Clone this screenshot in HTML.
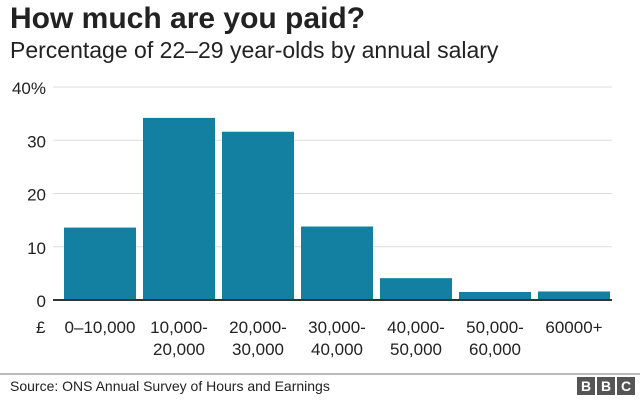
<!DOCTYPE html>
<html><head><meta charset="utf-8"><style>
body{margin:0;width:640px;height:400px;background:#fff;font-family:"Liberation Sans",Arial,sans-serif;overflow:hidden;position:relative}
</style></head><body>
<div style="position:absolute;left:10px;top:2px;font-size:30px;font-weight:bold;color:#222">How much are you paid?</div>
<div style="position:absolute;left:10px;top:37px;font-size:23px;color:#222">Percentage of 22–29 year-olds by annual salary</div>
<svg id="c" width="640" height="400" style="position:absolute;left:0;top:0"></svg>
<div style="position:absolute;left:0;top:373px;width:640px;height:2px;background:#bbb"></div>
<div style="position:absolute;left:10px;top:378px;font-size:14px;color:#222">Source: ONS Annual Survey of Hours and Earnings</div>
<div style="position:absolute;left:577px;top:377px;display:flex;gap:2px">
<span style="width:18px;height:18px;background:#555;color:#fff;font-weight:bold;font-size:14px;text-align:center;line-height:18px">B</span>
<span style="width:18px;height:18px;background:#555;color:#fff;font-weight:bold;font-size:14px;text-align:center;line-height:18px">B</span>
<span style="width:18px;height:18px;background:#555;color:#fff;font-weight:bold;font-size:14px;text-align:center;line-height:18px">C</span>
</div>
<script>
const categories=[["0–10,000"],["10,000-","20,000"],["20,000-","30,000"],["30,000-","40,000"],["40,000-","50,000"],["50,000-","60,000"],["60000+"]];
const values=[13.6,34.2,31.6,13.8,4.1,1.5,1.6];
const ticks=[0,10,20,30,40];
const tickLabels=["0","10","20","30","40%"];
const NS="http://www.w3.org/2000/svg",svg=document.getElementById("c");
const y0=300,y1=87,vmax=40;
const y=v=>y0-(y0-y1)*v/vmax;
const x0=60.5,step=79,bw=72;
const x=i=>x0+i*step+3.5;
function mk(t,a){const e=document.createElementNS(NS,t);for(const k in a)e.setAttribute(k,a[k]);svg.appendChild(e);return e;}
ticks.forEach((t,i)=>{
 if(t>0){const l=mk("line",{x1:53,x2:612,y1:y(t),y2:y(t),stroke:"#ddd","stroke-width":1});
 
 }
 const tx=mk("text",{x:46,y:y(t)+7,"text-anchor":"end","font-size":17,fill:"#222","font-family":"Liberation Sans,sans-serif"});
 tx.textContent=tickLabels[i];
 
 
});
values.forEach((v,i)=>{
 const r=mk("rect",{x:x(i),y:y(v),width:bw,height:y0-y(v),fill:"#1380a1"});
 
 
 categories[i].forEach((s,j)=>{
  const t=mk("text",{x:x(i)+bw/2,y:333+j*22,"text-anchor":"middle","font-size":17,fill:"#222","font-family":"Liberation Sans,sans-serif"});
  t.textContent=s;
  
  
 });
});
const b=mk("line",{x1:53,x2:612,y1:y0,y2:y0,stroke:"#333","stroke-width":2});


const p=mk("text",{x:36,y:333,"font-size":17,fill:"#222","font-family":"Liberation Sans,sans-serif"});
p.textContent="£";


</script>
</body></html>
